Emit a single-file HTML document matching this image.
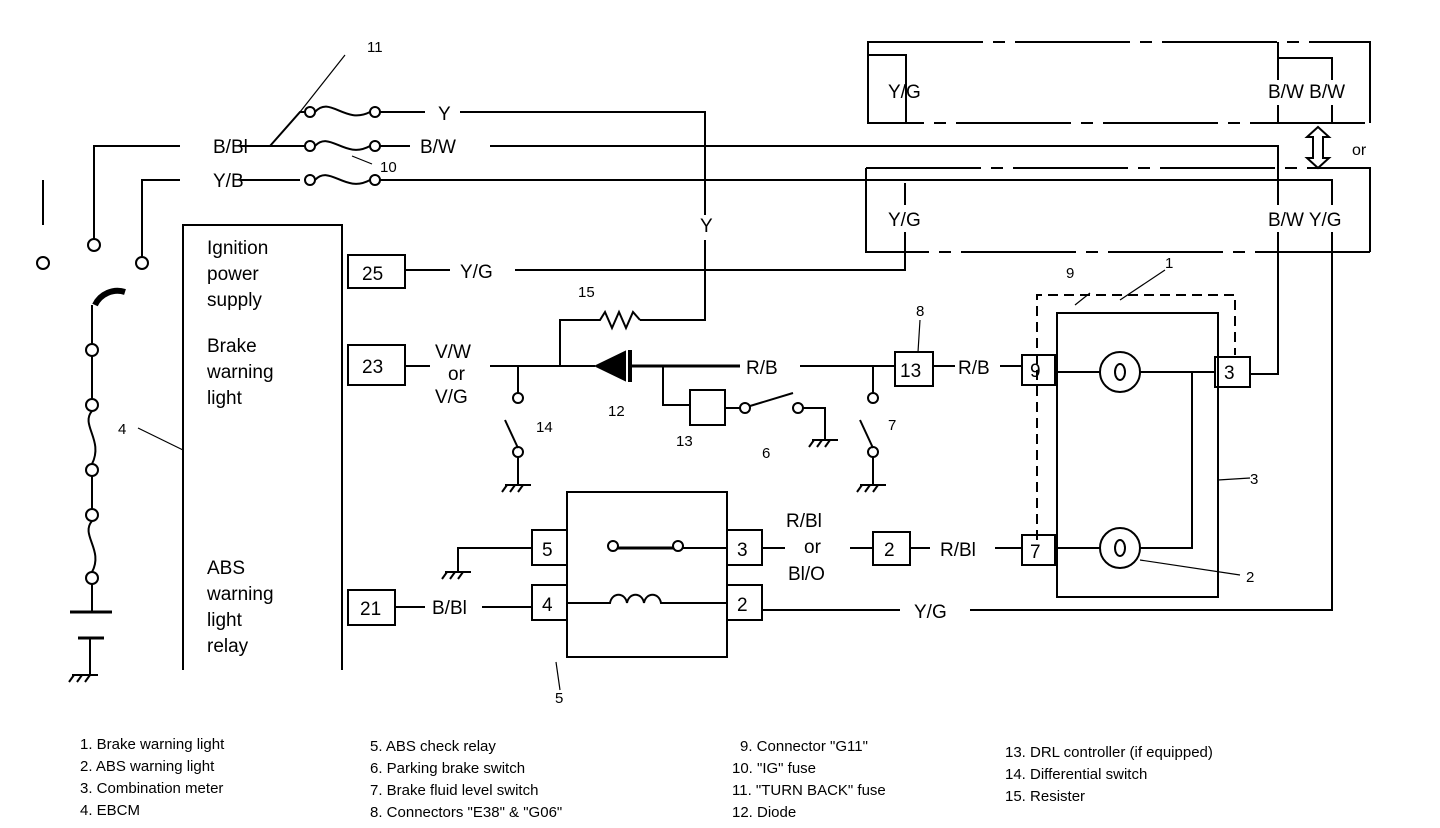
<!DOCTYPE html>
<html><head><meta charset="utf-8"><style>
html,body{margin:0;padding:0;background:#fff;}
svg{display:block;font-family:"Liberation Sans",Arial,sans-serif;}
text{fill:#000;}
.l{font-size:15px;}
.b{font-size:19px;}
</style></head><body>
<svg width="1440" height="828" viewBox="0 0 1440 828" xmlns="http://www.w3.org/2000/svg">
<g fill="none" stroke="#000" stroke-width="2">
<!-- top right box 1 -->
<path d="M868 42 H1370 V123 H868 Z" stroke-dasharray="115,10,12,10"/>
<path d="M868 42 V123 M1370 42 V123"/>
<path d="M868 55 H906 V123"/><path d="M1278 42 V80 M1278 105 V123"/><path d="M1278 58 H1332 V80 M1332 105 V123"/>
<!-- box 2 -->
<path d="M866 168 H1370 V252 H866 Z" stroke-dasharray="115,10,12,10"/>
<path d="M866 168 V252 M1370 168 V252"/>
<!-- or arrow -->
<path d="M1318 127 L1307 137 H1313 V158 H1307 L1318 168 L1329 158 H1323 V137 H1329 Z"/>
<!-- left switch -->
<circle cx="43" cy="263" r="6"/><circle cx="94" cy="245" r="6"/><circle cx="142" cy="263" r="6"/>
<path d="M43 180 V225"/>
<path d="M94 239 V146 H180 M240 146 H300"/>
<path d="M142 257 V180 H180 M240 180 H300"/>
<!-- fuses -->
<path d="M270 146 L300 112 H305 M275 146 H305"/>
<circle cx="310" cy="112" r="5"/><circle cx="375" cy="112" r="5"/>
<circle cx="310" cy="146" r="5"/><circle cx="375" cy="146" r="5"/>
<circle cx="310" cy="180" r="5"/><circle cx="375" cy="180" r="5"/>
<path d="M315 112 C330 95 345 125 370 112"/><path d="M315 146 C330 130 345 160 370 146"/><path d="M315 180 C330 164 345 194 370 180"/>
<path d="M300 112 L345 55" stroke-width="1.2"/><path d="M352 156 L372 164" stroke-width="1.2"/>
<path d="M380 112 H425 M460 112 H705 V215 M705 240 V320 H640"/>
<path d="M380 146 H410 M490 146 H1278 V205 M1278 232 V374 H1250"/>
<path d="M380 180 H1332 V205 M1332 232 V610 H970"/>
<!-- EBCM -->
<path d="M183 670 V225 H342 V670"/>
<rect x="348" y="255" width="57" height="33"/>
<path d="M405 270 H450 M515 270 H905 V232 M905 205 V183"/>
<rect x="348" y="345" width="57" height="40"/>
<path d="M405 366 H430 M490 366 H595"/>
<path d="M560 366 V320 H600 L605 312 L612 328 L619 312 L626 328 L633 312 L640 320"/>
<path d="M596 366 L625 352 V380 Z" fill="#000"/><path d="M630 350 V382" stroke-width="4"/>
<path d="M630 366 H740" stroke-width="3"/><path d="M800 366 H895"/>
<rect x="895" y="352" width="38" height="34"/><path d="M933 366 H955 M1000 366 H1022"/>
<rect x="1022" y="355" width="33" height="30"/><path d="M1055 372 H1100 M1140 372 H1215"/>
<circle cx="1120" cy="372" r="20"/><ellipse cx="1120" cy="372" rx="5" ry="8"/>
<rect x="1215" y="357" width="35" height="30"/>
<path d="M1192 372 V548 H1140"/>
<circle cx="1120" cy="548" r="20"/><ellipse cx="1120" cy="548" rx="5" ry="8"/>
<rect x="1022" y="535" width="33" height="30"/><path d="M1055 548 H1100"/>
<rect x="1057" y="313" width="161" height="284"/>
<path d="M1037 540 V295 H1235 V355" stroke-dasharray="10,6"/>
<path d="M1120 300 L1165 270 M1140 560 L1240 575 M1218 480 L1250 478" stroke-width="1.2"/>
<!-- switch 14 -->
<path d="M518 366 V393"/><circle cx="518" cy="398" r="5"/><path d="M518 448 L505 420"/><circle cx="518" cy="452" r="5"/><path d="M518 457 V485"/>
<path d="M505 485 H531 M507 485 L502 492 M515 485 L510 492 M523 485 L518 492"/>
<!-- 13 / 6 -->
<path d="M663 366 V405 H690"/><rect x="690" y="390" width="35" height="35"/><path d="M725 408 H740"/>
<circle cx="745" cy="408" r="5"/><path d="M750 406 L793 393"/><circle cx="798" cy="408" r="5"/><path d="M803 408 H825 V440"/>
<path d="M812 440 H838 M814 440 L809 447 M822 440 L817 447 M830 440 L825 447"/>
<!-- 7 -->
<path d="M873 366 V393"/><circle cx="873" cy="398" r="5"/><path d="M873 448 L860 420"/><circle cx="873" cy="452" r="5"/><path d="M873 457 V485"/>
<path d="M860 485 H886 M862 485 L857 492 M870 485 L865 492 M878 485 L873 492"/>
<!-- relay -->
<rect x="567" y="492" width="160" height="165"/>
<rect x="532" y="530" width="35" height="35"/><rect x="532" y="585" width="35" height="35"/>
<rect x="727" y="530" width="35" height="35"/><rect x="727" y="585" width="35" height="35"/>
<path d="M532 548 H458 V572 M445 572 H471 M447 572 L442 579 M455 572 L450 579 M463 572 L458 579"/>
<circle cx="613" cy="546" r="5"/><circle cx="678" cy="546" r="5"/><path d="M618 548 H673" stroke-width="3"/><path d="M683 548 H727"/>
<path d="M567 603 H610 C612 592 625 592 627 603 C629 592 642 592 644 603 C646 592 659 592 661 603 H727"/>
<path d="M762 548 H785 M850 548 H873"/><rect x="873" y="532" width="37" height="33"/><path d="M910 548 H930 M995 548 H1022"/>
<path d="M762 610 H900"/>
<rect x="348" y="590" width="47" height="35"/><path d="M395 607 H425 M482 607 H532"/>
<!-- left chain -->
<path d="M95 305 A25 25 0 0 1 125 292" stroke-width="6"/>
<path d="M92 305 V344"/><circle cx="92" cy="350" r="6"/><path d="M92 356 V399"/><circle cx="92" cy="405" r="6"/>
<path d="M92 411 C80 425 104 440 92 464"/><circle cx="92" cy="470" r="6"/><path d="M92 476 V509"/><circle cx="92" cy="515" r="6"/>
<path d="M92 521 C80 535 104 550 92 572"/><circle cx="92" cy="578" r="6"/><path d="M92 584 V612"/>
<path d="M70 612 H112" stroke-width="3"/><path d="M78 638 H104" stroke-width="3"/><path d="M90 638 V675 M72 675 H98 M74 675 L69 682 M82 675 L77 682 M90 675 L85 682"/>
<path d="M138 428 L183 450 M556 662 L560 690 M1090 293 L1075 305 M920 320 L918 352" stroke-width="1.2"/>
</g>
<g class="b">
<text x="888" y="98">Y/G</text><text x="1268" y="98">B/W B/W</text>
<text x="1352" y="155" class="l" style="font-size:16px">or</text>
<text x="888" y="226">Y/G</text><text x="1268" y="226">B/W Y/G</text>
<text x="213" y="153">B/Bl</text><text x="213" y="187">Y/B</text>
<text x="438" y="120">Y</text><text x="420" y="153">B/W</text>
<text x="700" y="232">Y</text>
<text x="207" y="254">Ignition</text><text x="207" y="280">power</text><text x="207" y="306">supply</text>
<text x="207" y="352">Brake</text><text x="207" y="378">warning</text><text x="207" y="404">light</text>
<text x="207" y="574">ABS</text><text x="207" y="600">warning</text><text x="207" y="626">light</text><text x="207" y="652">relay</text>
<text x="362" y="280">25</text><text x="362" y="373">23</text><text x="360" y="615">21</text>
<text x="460" y="278">Y/G</text>
<text x="435" y="358">V/W</text><text x="448" y="380">or</text><text x="435" y="403">V/G</text>
<text x="746" y="374">R/B</text><text x="900" y="377">13</text><text x="958" y="374">R/B</text>
<text x="1030" y="377">9</text><text x="1224" y="379">3</text>
<text x="542" y="556">5</text><text x="542" y="611">4</text><text x="737" y="556">3</text><text x="737" y="611">2</text>
<text x="786" y="527">R/Bl</text><text x="804" y="553">or</text><text x="788" y="580">Bl/O</text>
<text x="884" y="556">2</text><text x="940" y="556">R/Bl</text><text x="1030" y="558">7</text>
<text x="432" y="614">B/Bl</text><text x="914" y="618">Y/G</text>
<text x="118" y="434" class="l">4</text>
</g>
<g class="l">
<text x="367" y="52">11</text><text x="380" y="172">10</text><text x="578" y="297">15</text><text x="916" y="316">8</text>
<text x="1066" y="278">9</text><text x="1165" y="268">1</text><text x="608" y="416">12</text><text x="536" y="432">14</text>
<text x="676" y="446">13</text><text x="762" y="458">6</text><text x="888" y="430">7</text><text x="1250" y="484">3</text>
<text x="1246" y="582">2</text><text x="555" y="703">5</text>
</g>
<g class="l">
<text x="80" y="749">1.   Brake warning light</text><text x="80" y="771">2.   ABS warning light</text><text x="80" y="793">3.   Combination meter</text><text x="80" y="815">4.   EBCM</text>
<text x="370" y="751">5.   ABS check relay</text><text x="370" y="773">6.   Parking brake switch</text><text x="370" y="795">7.   Brake fluid level switch</text><text x="370" y="817">8.   Connectors "E38" &amp; "G06"</text>
<text x="740" y="751">9.   Connector "G11"</text><text x="732" y="773">10.   "IG" fuse</text><text x="732" y="795">11.   "TURN BACK" fuse</text><text x="732" y="817">12.   Diode</text>
<text x="1005" y="757">13.   DRL controller (if equipped)</text><text x="1005" y="779">14.   Differential switch</text><text x="1005" y="801">15.   Resister</text>
</g>
</svg>
</body></html>
